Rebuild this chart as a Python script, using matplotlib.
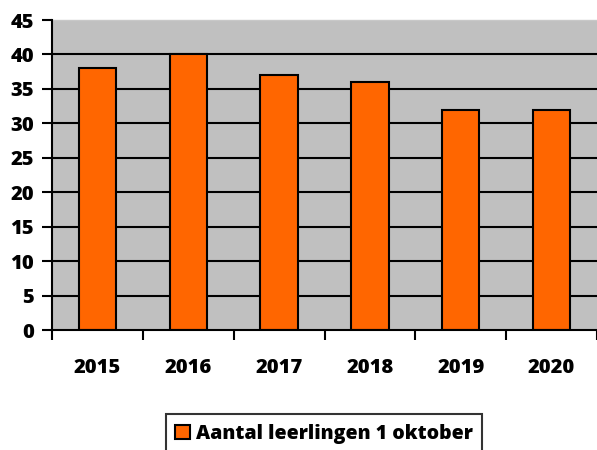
import matplotlib.pyplot as plt
import numpy as np

plt.rcParams['font.family'] = ['Open Sans', 'DejaVu Sans']

years = ['2015', '2016', '2017', '2018', '2019', '2020']
leerlingen = [38, 40, 37, 36, 32, 32]
yticks = list(range(0, 50, 5))

fig = plt.figure(figsize=(5.97, 4.5), dpi=100)
ax = fig.add_axes([52 / 597, 120 / 450, 545 / 597, 310 / 450])
ax.set_facecolor('#C0C0C0')

x = np.arange(len(years))
ax.bar(x, leerlingen, width=0.41, color='#FF6600', edgecolor='black',
       linewidth=1.5, zorder=3, label='Aantal leerlingen 1 oktober')

for v in yticks[1:-1]:
    ax.axhline(v, color='black', linewidth=1.5, zorder=1)

ax.set_xlim(-0.5, len(years) - 0.5)
ax.set_ylim(0, 45)
ax.set_yticks(yticks)
ax.set_yticklabels([str(v) for v in yticks], fontsize=14.5, fontweight='heavy')

# category ticks sit on boundaries, labels in the middle
ax.set_xticks(np.arange(-0.5, len(years) + 0.5, 1))
ax.set_xticklabels([])
ax.set_xticks(x, minor=True)
ax.set_xticklabels(years, minor=True, fontsize=14.5, fontweight='heavy')
ax.tick_params(axis='x', which='major', length=7, width=1.5, direction='out')
ax.tick_params(axis='x', which='minor', length=0, pad=20)
ax.tick_params(axis='y', length=7, width=1.5, direction='out', pad=6)

for s in ['left', 'bottom']:
    ax.spines[s].set_linewidth(1.5)
    ax.spines[s].set_zorder(4)
ax.spines['right'].set_visible(False)
ax.spines['top'].set_color('#C8C8C8')
ax.spines['top'].set_linewidth(1)

leg = fig.legend(loc='center', bbox_to_anchor=(324 / 597, 1 - 434 / 450),
                 frameon=True, fancybox=False, edgecolor='black',
                 prop={'size': 14, 'weight': 'heavy'}, handlelength=0.75,
                 handleheight=0.75, handletextpad=0.3, borderpad=0.5)
leg.get_frame().set_linewidth(1.5)

fig.savefig('out.png', dpi=100)
